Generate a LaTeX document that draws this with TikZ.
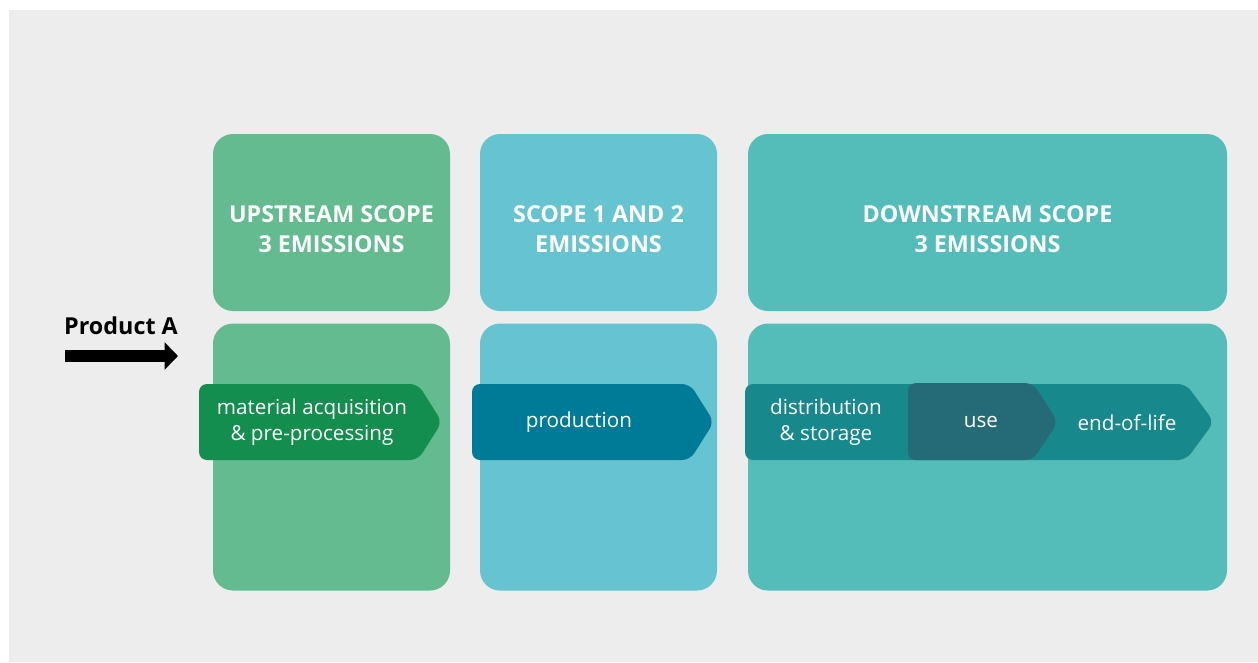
\documentclass[tikz,border=0pt]{standalone}
\usepackage{fontspec}
\setmainfont{Open Sans}
\usetikzlibrary{positioning, arrows.meta}

\definecolor{bggray}{HTML}{EDEDED}
\definecolor{upcol}{HTML}{63BB8F}
\definecolor{midcol}{HTML}{66C3D0}
\definecolor{downcol}{HTML}{55BDB9}
\definecolor{matcol}{HTML}{138E4F}
\definecolor{prodcol}{HTML}{007B97}
\definecolor{distcol}{HTML}{17898D}
\definecolor{usecol}{HTML}{256B77}

\tikzset{
  scopebox/.style={rounded corners=15pt, inner sep=0pt, minimum width=177.75pt},
  toprow/.style={scopebox, minimum height=132.75pt},
  botrow/.style={scopebox, minimum height=200.25pt},
  scopetitle/.style={text=white, align=center, font=\bfseries\fontsize{17.5}{22}\selectfont},
  steplabel/.style={text=white, align=center, font=\fontsize{15.5}{19}\selectfont},
  stepshape/.style={rounded corners=6pt}
}

\begin{document}
\begin{tikzpicture}[x=0.75pt, y=-0.75pt]
    % background
    \fill [white] (0,0) rectangle (1258,662);
    \fill [bggray] (9,10) rectangle (1258,662);
    \useasboundingbox (0,0) rectangle (1258,662);

    % Upstream scope 3
    \node [toprow, fill=upcol] (UpTop) at (331.5,222.5) {};
    \node [botrow, fill=upcol, below=9pt of UpTop] (UpBot) {};
    \node [scopetitle] (UpTitle) at ([yshift=-5pt]UpTop.center)
    {UPSTREAM SCOPE\\3 EMISSIONS};

    % Scope 1 and 2
    \node [toprow, fill=midcol] (MidTop) at (598.5,222.5) {};
    \node [botrow, fill=midcol, below=9pt of MidTop] (MidBot) {};
    \node [scopetitle] (MidTitle) at ([yshift=-5pt]MidTop.center)
    {SCOPE 1 AND 2\\EMISSIONS};

    % Downstream scope 3
    \node [toprow, fill=downcol, minimum width=359.25pt] (DownTop) at (987.5,222.5) {};
    \node [botrow, fill=downcol, minimum width=359.25pt, below=9pt of DownTop] (DownBot) {};
    \node [scopetitle] (DownTitle) at ([yshift=-5pt]DownTop.center)
    {DOWNSTREAM SCOPE\\3 EMISSIONS};

    % process steps
    \fill [matcol, stepshape] (199,384) -- (418,384) -- (442,422) -- (418,460)
    -- (199,460) -- cycle;
    \node [steplabel] (Mat) at (312,422) {material acquisition\\\& pre-processing};

    \fill [prodcol, stepshape] (472,384) -- (690,384) -- (714,422) -- (690,460)
    -- (472,460) -- cycle;
    \node [steplabel] (Prod) at (579,422) {production};

    \fill [distcol, stepshape] (745,384) -- (1186,384) -- (1214,422) -- (1186,460)
    -- (745,460) -- cycle;
    \node [steplabel] (Dist) at (826,422) {distribution\\\& storage};
    \node [steplabel] (End) at (1127,423) {end-of-life};

    \fill [usecol, stepshape] (908,383) -- (1033,383) -- (1058,422) -- (1033,460)
    -- (908,460) -- cycle;
    \node [steplabel] (Use) at (981,422) {use};

    % Product A
    \node [font=\bfseries\fontsize{17.5}{20}\selectfont] (ProdA) at (121,326) {Product A};
    \coordinate (ArrS) at (65,356);
    \coordinate (ArrE) at (178,356);
    \draw [line width=9pt, -{Triangle[length=10pt, width=20pt]}] (ArrS) -- (ArrE);
\end{tikzpicture}
\end{document}
